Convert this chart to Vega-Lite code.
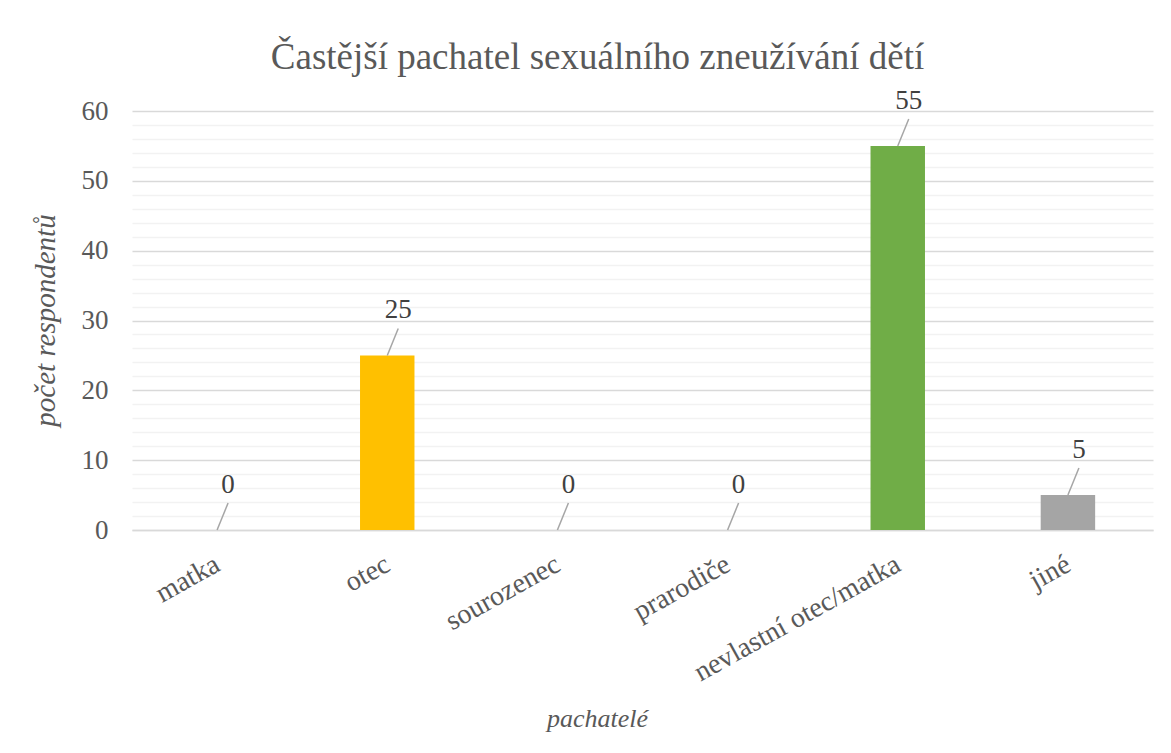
{
  "$schema": "https://vega.github.io/schema/vega-lite/v6.json",
  "autosize": {"type": "none"},
  "width": 1021,
  "height": 419,
  "padding": {"left": 132, "top": 111, "right": 18, "bottom": 223},
  "background": "white",
  "config": {
    "font": "Liberation Serif",
    "view": {"stroke": null}
  },
  "title": {
    "text": "Častější pachatel sexuálního zneužívání  dětí",
    "font": "Liberation Serif",
    "fontSize": 37,
    "fontWeight": "normal",
    "color": "#595959",
    "anchor": "middle",
    "dx": -45,
    "offset": 10
  },
  "data": {
    "values": [
      {"pachatel": "matka", "pocet": 0},
      {"pachatel": "otec", "pocet": 25},
      {"pachatel": "sourozenec", "pocet": 0},
      {"pachatel": "prarodiče", "pocet": 0},
      {"pachatel": "nevlastní otec/matka", "pocet": 55},
      {"pachatel": "jiné", "pocet": 5}
    ]
  },
  "encoding": {
    "x": {
      "field": "pachatel",
      "type": "nominal",
      "sort": null,
      "scale": {"paddingInner": 0.68, "paddingOuter": 0.34},
      "axis": {
        "title": "pachatelé",
        "titleFont": "Liberation Serif",
        "titleFontStyle": "italic",
        "titleFontWeight": "normal",
        "titleFontSize": 26,
        "titleColor": "#595959",
        "titleX": 465,
        "titleY": 188,
        "titleAnchor": null,
        "titleAlign": "center",
        "titleBaseline": "middle",
        "labelAngle": -29,
        "labelFontSize": 28,
        "labelColor": "#595959",
        "labelFont": "Liberation Serif",
        "labelPadding": 20,
        "labelOffset": -6,
        "labelLimit": 0,
        "ticks": false,
        "domainColor": "#d9d9d9",
        "domainWidth": 1.5,
        "grid": false
      }
    },
    "y": {
      "field": "pocet",
      "type": "quantitative",
      "scale": {"domain": [0, 60], "nice": false},
      "axis": null
    }
  },
  "layer": [
    {
      "mark": {"type": "bar", "fill": "transparent"},
      "encoding": {
        "y": {
          "field": "pocet",
          "type": "quantitative",
          "scale": {"domain": [0, 60], "nice": false},
          "axis": {
            "orient": "left",
            "values": [2, 4, 6, 8, 12, 14, 16, 18, 22, 24, 26, 28, 32, 34, 36, 38, 42, 44, 46, 48, 52, 54, 56, 58],
            "grid": true,
            "gridColor": "#f2f2f2",
            "gridWidth": 1.5,
            "labels": false,
            "ticks": false,
            "domain": false,
            "title": null
          }
        }
      }
    },
    {
      "mark": {"type": "bar"},
      "encoding": {
        "y": {
          "field": "pocet",
          "type": "quantitative",
          "scale": {"domain": [0, 60], "nice": false},
          "axis": {
            "orient": "left",
            "values": [0, 10, 20, 30, 40, 50, 60],
            "grid": true,
            "gridColor": "#d9d9d9",
            "gridWidth": 1.5,
            "ticks": false,
            "domain": false,
            "labelFontSize": 27,
            "labelColor": "#595959",
            "labelFont": "Liberation Serif",
            "labelPadding": 24,
            "title": "počet respondentů",
            "titleFont": "Liberation Serif",
            "titleFontStyle": "italic",
            "titleFontWeight": "normal",
            "titleFontSize": 29,
            "titleColor": "#595959",
            "titleX": -87,
            "titleY": 209,
            "titleAngle": 270,
            "titleAlign": "center",
            "titleBaseline": "middle",
            "titleAnchor": null
          }
        },
        "color": {
          "field": "pachatel",
          "type": "nominal",
          "scale": {
            "domain": ["matka", "otec", "sourozenec", "prarodiče", "nevlastní otec/matka", "jiné"],
            "range": ["#4472C4", "#FFC000", "#ED7D31", "#5B9BD5", "#70AD47", "#A5A5A5"]
          },
          "legend": null
        }
      }
    },
    {
      "mark": {"type": "rule", "color": "#a6a6a6", "strokeWidth": 1.5, "x2Offset": 11, "y2Offset": -27},
      "encoding": {
        "x2": {"field": "pachatel"},
        "y2": {"field": "pocet"}
      }
    },
    {
      "mark": {"type": "text", "fontSize": 27, "color": "#404040", "baseline": "alphabetic", "align": "center", "dx": 11, "dy": -37, "font": "Liberation Serif"},
      "encoding": {
        "text": {"field": "pocet", "type": "quantitative"}
      }
    }
  ],
  "resolve": {"axis": {"y": "independent"}}
}
